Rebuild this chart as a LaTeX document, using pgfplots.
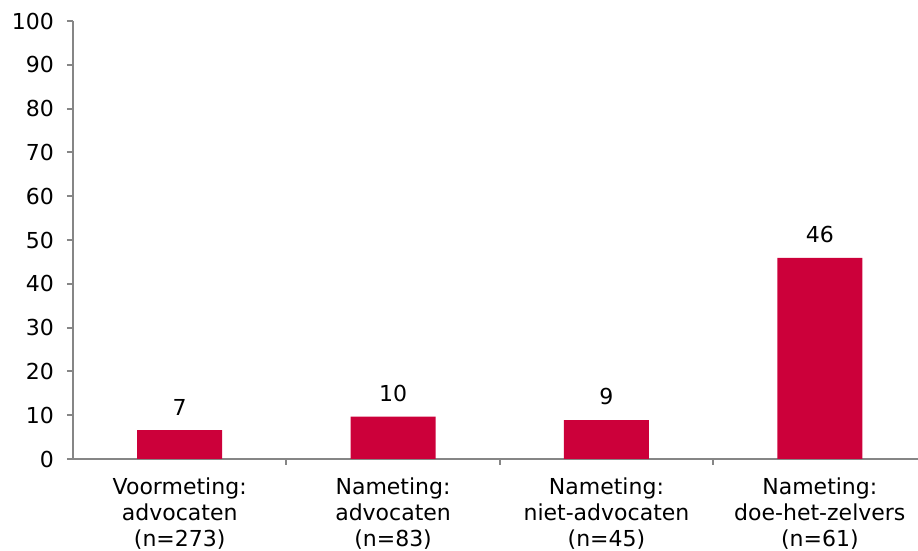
\documentclass[border=0pt]{standalone}
\usepackage{fontspec}
\setmainfont{DejaVu Sans}
\usepackage{pgfplots}
\pgfplotsset{compat=1.18}
\definecolor{barred}{RGB}{204,0,58}
\definecolor{axgray}{RGB}{134,134,134}

\begin{document}
\begin{tikzpicture}
\begin{axis}[
    at={(0,0)}, anchor=south west,
    scale only axis,
    width=422.5pt, height=219pt,
    xmin=0, xmax=3.96,
    ymin=0, ymax=100,
    axis x line*=bottom,
    axis y line*=left,
    axis line style={axgray, line width=1pt},
    ytick={0,10,...,100},
    xtick={0.5,1.5,2.5,3.5},
    xticklabels={Voormeting:\\advocaten\\(n=273),
                 Nameting:\\advocaten\\(n=83),
                 Nameting:\\niet-advocaten\\(n=45),
                 Nameting:\\doe-het-zelvers\\(n=61)},
    minor xtick={1,2,3},
    major x tick style={draw=none},
    minor x tick style={axgray, line width=1pt},
    y tick style={axgray, line width=1pt},
    tick align=outside,
    major tick length=3pt,
    minor tick length=3pt,
    tick label style={font=\fontsize{11}{13}\selectfont, black},
    xticklabel style={align=center, yshift=-3pt},
    yticklabel style={xshift=-3pt},
    /pgf/number format/assume math mode=true,
    clip=false,
]
\addplot[ybar, bar width=42.5pt, fill=barred, draw=none,
    point meta=explicit symbolic,
    nodes near coords,
    nodes near coords style={font=\fontsize{11}{12}\selectfont, black, yshift=4pt}]
  coordinates {
    (0.5,6.6) [7]
    (1.5,9.7) [10]
    (2.5,8.9) [9]
    (3.5,45.9) [46]
};
\end{axis}
\pgfresetboundingbox
\path (-36.5pt,-46pt) rectangle (422.5pt,229.5pt);
\end{tikzpicture}
\end{document}
